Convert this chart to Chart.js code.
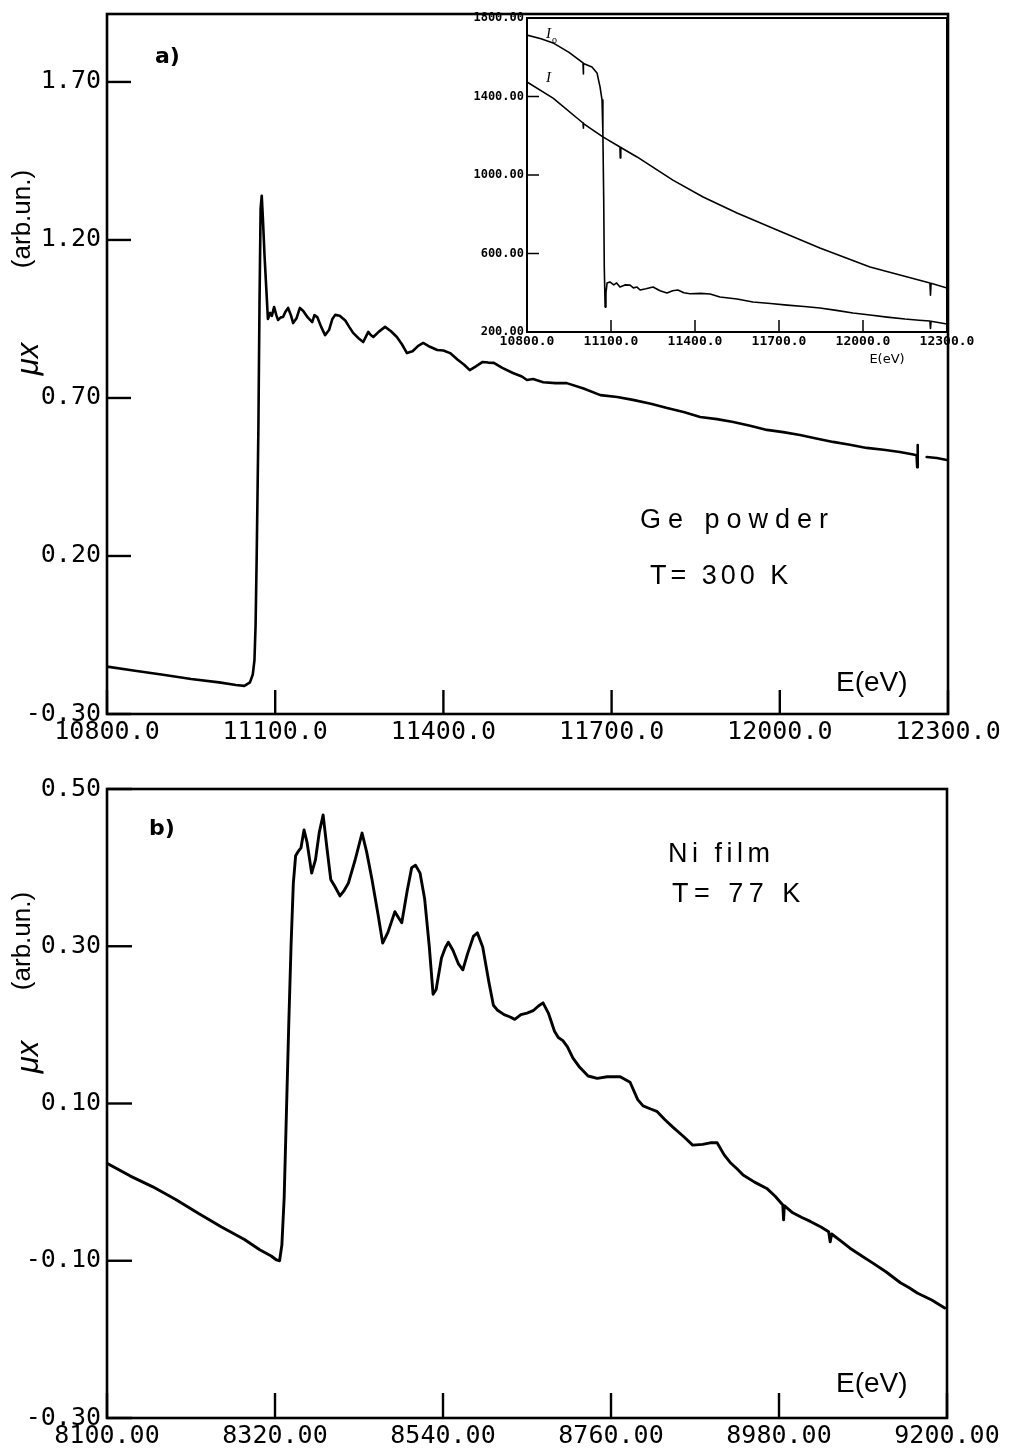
<!DOCTYPE html>
<html><head><meta charset="utf-8">
<script src="https://cdn.jsdelivr.net/npm/chart.js@4.4.1/dist/chart.umd.min.js"></script>
<style>
html,body{margin:0;padding:0;background:#fff;}
#wrap{position:relative;width:1009px;height:1455px;overflow:hidden;background:#fff;}
canvas{position:absolute;}
</style></head><body>
<div id="wrap">
<canvas id="ca" width="1009" height="754" style="left:0;top:0"></canvas>
<canvas id="cb" width="1009" height="701" style="left:0;top:754px"></canvas>
<canvas id="ci" width="569" height="375" style="left:440px;top:0"></canvas>
</div>
<script>
// ---------- Panel a) Ge powder, T=300 K ----------
const energyA = [10800,10850,10900,10950,11000,11030,11045,11055,11060,11063,
 11065,11067,11070,11072,11074,11076,11078,11081,11084,11087,
 11091,11094,11098,11102,11105,11110,11114,11118,11123,11128,
 11132,11138,11144,11150,11158,11166,11170,11175,11182,11189,
 11196,11202,11207,11215,11225,11232,11239,11248,11257,11262,
 11266,11270,11275,11285,11296,11306,11317,11326,11335,11345,
 11355,11364,11376,11389,11400,11412,11425,11437,11447,11458,
 11470,11480,11490,11505,11524,11540,11549,11560,11578,11600,
 11620,11650,11680,11710,11738,11770,11799,11830,11858,11888,
 11917,11947,11977,12006,12036,12065,12095,12125,12155,12185,
 12214,12236,12244,12245,12246,12247,12262,12280,12298];
const muA = [-0.150,-0.163,-0.176,-0.189,-0.200,-0.208,-0.211,-0.200,-0.175,-0.130,
 -0.02,0.20,0.60,1.00,1.30,1.34,1.27,1.15,1.05,0.950,
 0.969,0.960,0.988,0.962,0.947,0.955,0.956,0.972,0.985,0.962,
 0.937,0.952,0.985,0.975,0.955,0.940,0.962,0.956,0.925,0.899,
 0.915,0.950,0.963,0.960,0.945,0.925,0.906,0.890,0.877,0.895,
 0.909,0.900,0.893,0.910,0.925,0.912,0.893,0.870,0.842,0.848,
 0.865,0.874,0.862,0.852,0.850,0.842,0.822,0.805,0.788,0.800,
 0.814,0.812,0.811,0.795,0.779,0.768,0.757,0.760,0.750,0.747,
 0.747,0.730,0.709,0.703,0.694,0.682,0.668,0.655,0.640,0.633,
 0.624,0.612,0.599,0.592,0.583,0.572,0.561,0.552,0.542,0.536,
 0.529,0.522,0.519,0.481,0.551,null,0.513,0.510,0.504];
const xTicksA = [10800, 11100, 11400, 11700, 12000, 12300];
const yTicksA = [-0.30, 0.20, 0.70, 1.20, 1.70];
const xRangeA = [10800, 12300];
const yRangeA = [-0.30, 1.915];

// ---------- Inset of a): I0 and I ----------
const energyI0 = [10800,10850,10893,10950,11000,11001,11002,11032,11050,11061,
 11068,11071,11074,11076,11079,11082,11086,11096,11110,11120,
 11132,11150,11168,11180,11193,11204,11225,11250,11275,11300,
 11320,11339,11360,11382,11420,11454,11489,11550,11607,11670,
 11729,11790,11846,11905,11964,12025,12086,12150,12200,12239,
 12241,12243,12300];
const countsI0 = [1713,1694,1673,1625,1571,1515,1568,1550,1520,1448,
 1382,1214,873,531,327,399,450,455,440,450,
 429,440,439,425,429,414,420,429,410,399,
 410,414,400,395,397,394,378,368,353,345,
 337,330,322,310,297,287,276,266,260,256,
 218,255,241];
const energyI = [10800,10893,11000,11001,11002,11071,11132,11133,11135,11193,
 11321,11429,11550,11693,11846,12025,12239,12241,12243,12300];
const countsI = [1474,1392,1265,1239,1262,1194,1143,1087,1140,1092,
 974,888,806,720,628,531,450,388,448,424];
const xTicksInset = [10800, 11100, 11400, 11700, 12000, 12300];
const yTicksInset = [200, 600, 1000, 1400, 1800];

// ---------- Panel b) Ni film, T=77 K ----------
const energyB = [8100,8130,8160,8190,8220,8250,8280,8300,8315,8322,
 8326,8329,8332,8335,8338,8341,8344,8347,8350,8354,
 8358,8362,8368,8373,8378,8383,8388,8393,8399,8405,
 8410,8416,8425,8434,8440,8447,8455,8461,8468,8477,
 8482,8486,8493,8499,8504,8510,8516,8522,8527,8531,
 8538,8543,8547,8553,8560,8566,8572,8580,8585,8592,
 8600,8606,8611,8620,8628,8634,8642,8650,8658,8665,
 8671,8678,8686,8691,8697,8703,8710,8719,8730,8742,
 8755,8772,8785,8795,8802,8812,8820,8830,8841,8855,
 8867,8880,8890,8899,8908,8916,8925,8933,8948,8964,
 8975,8985,8986,8987,8998,9010,9021,9035,9045,9047,
 9049,9060,9073,9090,9103,9120,9139,9150,9161,9180,
 9197];
const muB = [0.024,0.008,-0.006,-0.022,-0.040,-0.057,-0.073,-0.086,-0.094,-0.099,
 -0.100,-0.080,-0.020,0.090,0.200,0.300,0.380,0.415,0.420,0.425,
 0.448,0.432,0.393,0.410,0.445,0.467,0.425,0.385,0.375,0.364,
 0.370,0.380,0.410,0.444,0.420,0.385,0.340,0.304,0.318,0.344,
 0.336,0.330,0.370,0.400,0.403,0.393,0.360,0.300,0.239,0.245,
 0.285,0.298,0.305,0.295,0.278,0.270,0.290,0.313,0.317,0.299,
 0.255,0.225,0.219,0.213,0.210,0.207,0.213,0.215,0.218,0.224,
 0.228,0.215,0.192,0.184,0.180,0.172,0.158,0.146,0.135,0.132,
 0.134,0.134,0.127,0.105,0.097,0.093,0.090,0.080,0.070,0.058,
 0.047,0.048,0.050,0.050,0.035,0.025,0.017,0.009,0.000,-0.008,
 -0.018,-0.029,-0.048,-0.030,-0.039,-0.045,-0.050,-0.057,-0.063,-0.076,
 -0.066,-0.074,-0.084,-0.095,-0.103,-0.114,-0.128,-0.134,-0.141,-0.150,
 -0.160];
const xTicksB = [8100, 8320, 8540, 8760, 8980, 9200];
const yTicksB = [-0.30, -0.10, 0.10, 0.30, 0.50];
const xRangeB = [8100, 9200];
const yRangeB = [-0.30, 0.50];

// ---------- helpers ----------
function framePlugin(cfg) {
  return {
    id: 'frame_' + cfg.id,
    afterDraw(chart) {
      const ctx = chart.ctx, a = chart.chartArea;
      const xs = chart.scales.x, ys = chart.scales.y;
      ctx.save();
      ctx.strokeStyle = '#000';
      ctx.lineWidth = cfg.frameW;
      ctx.strokeRect(a.left, a.top, a.right - a.left, a.bottom - a.top);
      ctx.lineWidth = cfg.tickW;
      xs.ticks.forEach(t => {
        const p = xs.getPixelForValue(t.value);
        ctx.beginPath(); ctx.moveTo(p, a.bottom); ctx.lineTo(p, a.bottom - cfg.tickLen); ctx.stroke();
      });
      ys.ticks.forEach(t => {
        const p = ys.getPixelForValue(t.value);
        ctx.beginPath(); ctx.moveTo(a.left, p); ctx.lineTo(a.left + cfg.tickLen, p); ctx.stroke();
      });
      (cfg.texts || []).forEach(tx => {
        ctx.save();
        ctx.fillStyle = '#000';
        ctx.font = tx.font;
        ctx.textAlign = tx.align || 'left';
        ctx.textBaseline = 'middle';
        if ('letterSpacing' in ctx) ctx.letterSpacing = tx.ls || '0px';
        ctx.translate(tx.x, tx.y);
        if (tx.rot) ctx.rotate(tx.rot);
        ctx.fillText(tx.t, 0, 0);
        ctx.restore();
      });
      ctx.restore();
    }
  };
}

function makeChart(cfg) {
  const datasets = cfg.series.map(s => ({
    data: s.x.map((x, i) => ({x: x, y: s.y[i]})),
    borderColor: '#000', borderWidth: s.lw, pointRadius: 0, tension: 0,
    fill: false, spanGaps: false, borderJoinStyle: 'round', borderCapStyle: 'round'
  }));
  return new Chart(document.getElementById(cfg.id), {
    type: 'line',
    data: {datasets},
    options: {
      responsive: false, animation: false, devicePixelRatio: 1,
      layout: {padding: cfg.pad},
      plugins: {legend: {display: false}, tooltip: {enabled: false}},
      scales: {
        x: {
          type: 'linear', min: cfg.xr[0], max: cfg.xr[1], position: 'bottom',
          afterBuildTicks: s => { s.ticks = cfg.xt.map(v => ({value: v})); },
          afterFit: s => { s.height = cfg.xH; s.paddingLeft = 0; s.paddingRight = 0; },
          grid: {display: false, drawTicks: false}, border: {display: false},
          ticks: {autoSkip: false, maxRotation: 0, minRotation: 0, padding: cfg.xPad,
                  color: '#000', font: cfg.xFont, callback: v => Number(v).toFixed(cfg.xDec)}
        },
        y: {
          type: 'linear', min: cfg.yr[0], max: cfg.yr[1],
          afterBuildTicks: s => { s.ticks = cfg.yt.map(v => ({value: v})); },
          afterFit: s => { s.width = cfg.yW; s.paddingTop = 0; s.paddingBottom = 0; },
          grid: {display: false, drawTicks: false}, border: {display: false},
          ticks: {autoSkip: false, padding: cfg.yPad, color: '#000', font: cfg.yFont,
                  callback: v => Number(v).toFixed(cfg.yDec)}
        }
      }
    },
    plugins: [framePlugin(cfg)]
  });
}

const mainFont = {family: '"DejaVu Sans Mono", monospace', size: 25};
const txtFont = '"Liberation Sans", Arial, sans-serif';
const R = -Math.PI / 2;

makeChart({
  id: 'ca', series: [{x: energyA, y: muA, lw: 2.6}],
  xr: xRangeA, yr: yRangeA, xt: xTicksA, yt: yTicksA, xDec: 1, yDec: 2,
  pad: {left: 0, top: 14, right: 61, bottom: 0}, yW: 107, xH: 40,
  xPad: 3, yPad: 6, xFont: mainFont, yFont: mainFont,
  frameW: 2.6, tickW: 2.4, tickLen: 24,
  texts: [
    {t: 'a)', x: 155, y: 57, font: 'bold 22px "DejaVu Sans", sans-serif'},
    {t: 'Ge powder', x: 640, y: 521, font: '27px ' + txtFont, ls: '7px'},
    {t: 'T= 300 K', x: 650, y: 577, font: '27px ' + txtFont, ls: '4px'},
    {t: 'E(eV)', x: 836, y: 683, font: '28px ' + txtFont},
    {t: '(arb.un.)', x: 23, y: 219, font: '26px ' + txtFont, rot: R, align: 'center'},
    {t: 'μx', x: 29, y: 359, font: 'italic 31px ' + txtFont, rot: R, align: 'center'}
  ]
});

makeChart({
  id: 'cb', series: [{x: energyB, y: muB, lw: 2.9}],
  xr: xRangeB, yr: yRangeB, xt: xTicksB, yt: yTicksB, xDec: 2, yDec: 2,
  pad: {left: 0, top: 35, right: 62, bottom: 0}, yW: 107, xH: 37,
  xPad: 3, yPad: 6, xFont: mainFont, yFont: mainFont,
  frameW: 2.6, tickW: 2.4, tickLen: 25,
  texts: [
    {t: 'b)', x: 149, y: 75, font: 'bold 22px "DejaVu Sans", sans-serif'},
    {t: 'Ni film', x: 668, y: 101, font: '27px ' + txtFont, ls: '4.5px'},
    {t: 'T= 77 K', x: 672, y: 141, font: '27px ' + txtFont, ls: '5.5px'},
    {t: 'E(eV)', x: 836, y: 630, font: '28px ' + txtFont},
    {t: '(arb.un.)', x: 23, y: 187, font: '26px ' + txtFont, rot: R, align: 'center'},
    {t: 'μx', x: 29, y: 303, font: 'italic 31px ' + txtFont, rot: R, align: 'center'}
  ]
});

const insetFontY = {family: '"DejaVu Sans Mono", monospace', size: 12, weight: 'bold'};
const insetFontX = {family: '"DejaVu Sans Mono", monospace', size: 13, weight: 'bold'};
makeChart({
  id: 'ci', series: [{x: energyI0, y: countsI0, lw: 1.6}, {x: energyI, y: countsI, lw: 1.6}],
  xr: [10800, 12300], yr: [200, 1800], xt: xTicksInset, yt: yTicksInset, xDec: 1, yDec: 2,
  pad: {left: 0, top: 18, right: 62, bottom: 0}, yW: 87, xH: 43,
  xPad: 2, yPad: 3, xFont: insetFontX, yFont: insetFontY,
  frameW: 2, tickW: 1.5, tickLen: 12,
  texts: [
    {t: 'I', x: 106, y: 34, font: 'italic 15px "Liberation Serif", serif'},
    {t: 'o', x: 112, y: 40, font: '10px "Liberation Serif", serif'},
    {t: 'I', x: 106, y: 78, font: 'italic 15px "Liberation Serif", serif'},
    {t: 'E(eV)', x: 447, y: 360, font: '13px "DejaVu Sans", sans-serif', align: 'center'}
  ]
});
</script>
</body></html>
